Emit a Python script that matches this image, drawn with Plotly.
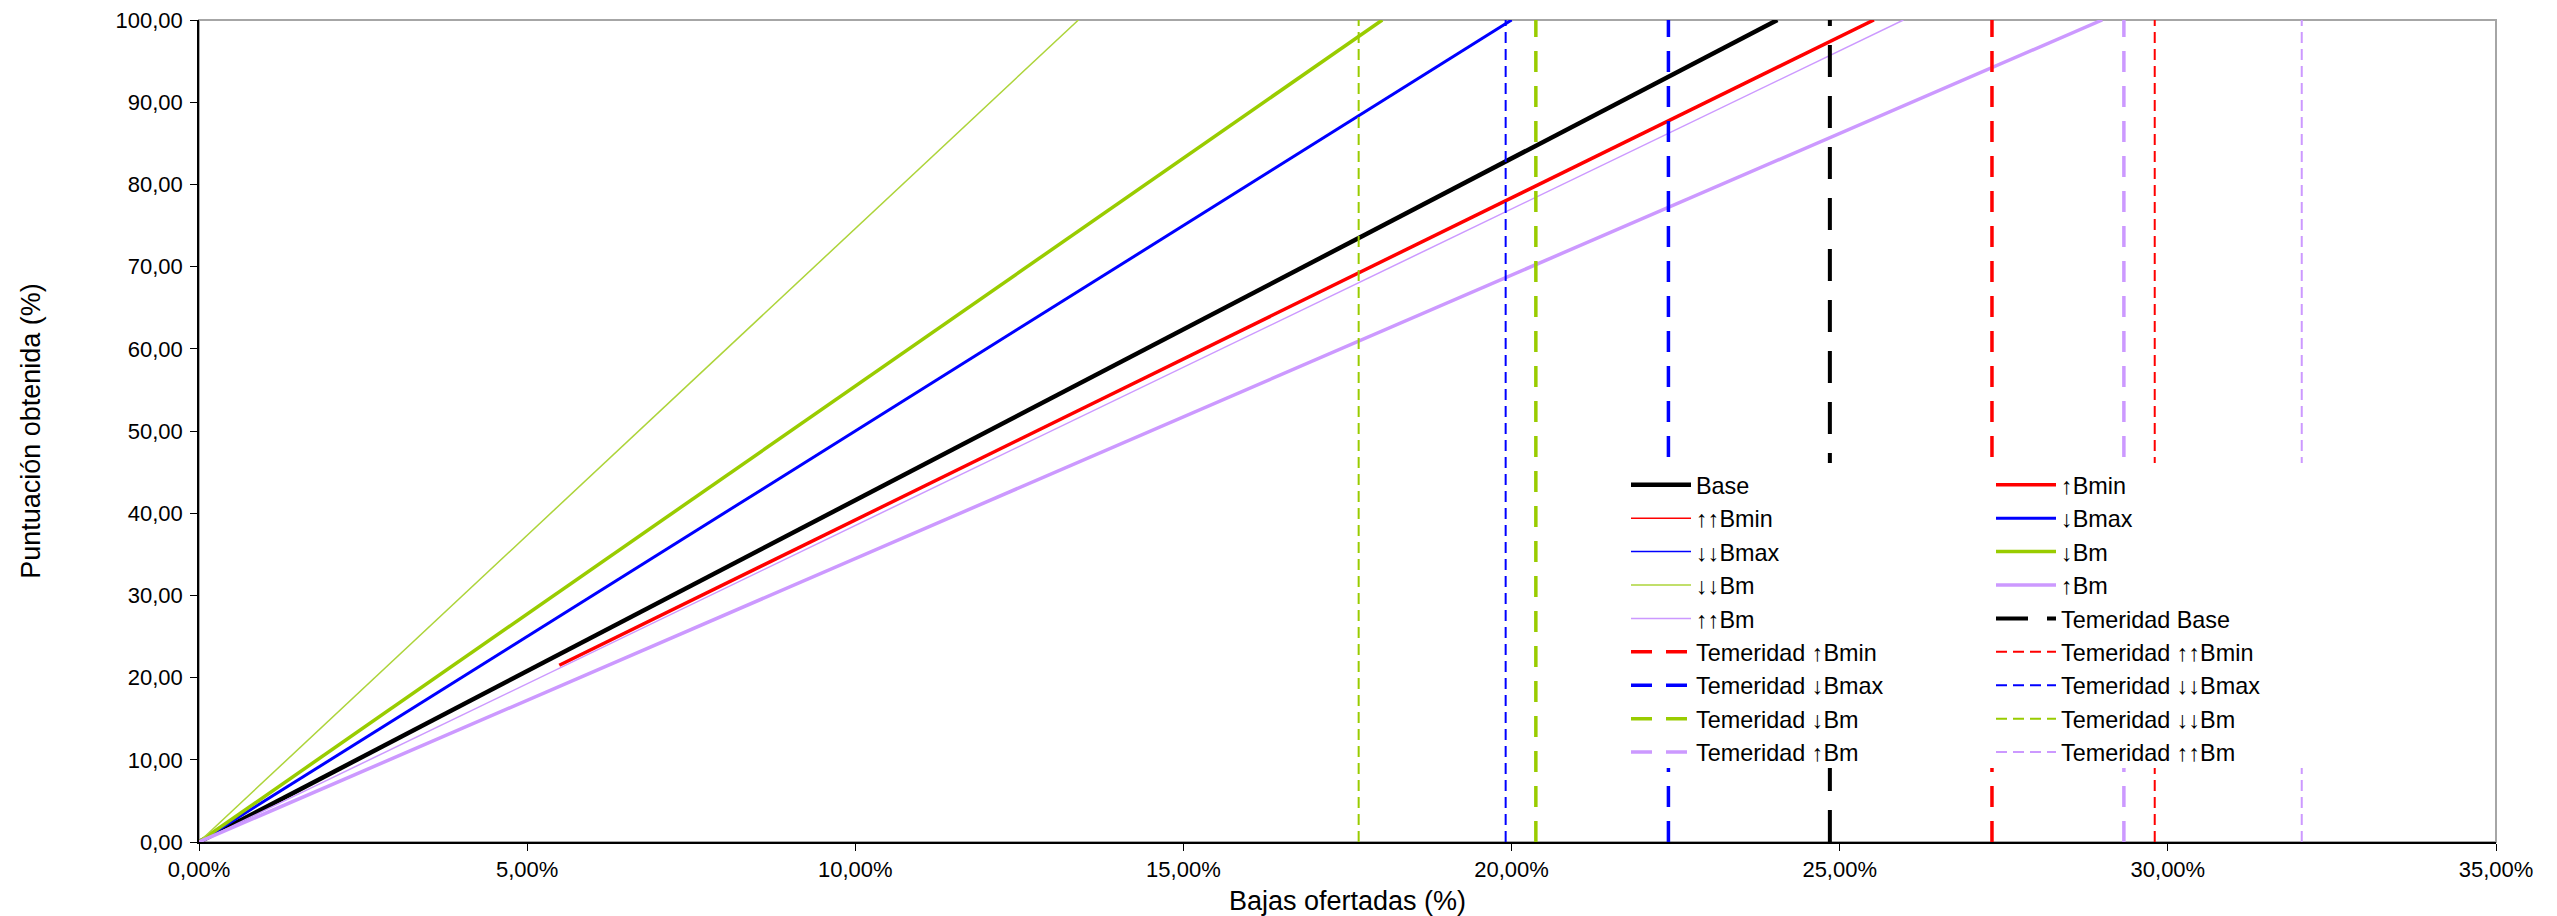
import plotly.graph_objects as go

# ---------------- data ----------------
FONT = "Liberation Sans, Arial, sans-serif"

# diagonal score lines: start point and point where score reaches 100
line_names = ["Base", "↑Bmin", "↑↑Bmin", "↓Bmax", "↓↓Bmax", "↓Bm", "↓↓Bm", "↑Bm", "↑↑Bm"]
line_x0 = [0.0, 5.49, 10.98, 0.0, 0.0, 0.0, 0.0, 0.0, 0.0]
line_y0 = [0.0, 21.5, 43.0, 0.0, 0.0, 0.0, 0.0, 0.0, 0.0]
line_x1 = [24.05, 25.52, 25.52, 20.00, 20.00, 18.03, 13.40, 29.00, 25.97]
line_y1 = [100, 100, 100, 100, 100, 100, 100, 100, 100]
line_colors = ["#000000", "#FF0000", "#FF0000", "#0000FF", "#0000FF", "#99CC00", "#ADD43A", "#CC99FF", "#CC99FF"]
line_widths = [4.5, 3.5, 1.5, 3.0, 1.5, 3.5, 1.5, 3.5, 1.5]
line_legend = ["legend", "legend2", "legend", "legend2", "legend", "legend2", "legend", "legend2", "legend"]

# temeridad (abnormally low bid) thresholds, vertical lines
tem_names = ["Temeridad Base", "Temeridad ↑Bmin", "Temeridad ↑↑Bmin", "Temeridad ↓Bmax",
             "Temeridad ↓↓Bmax", "Temeridad ↓Bm", "Temeridad ↓↓Bm", "Temeridad ↑Bm", "Temeridad ↑↑Bm"]
tem_x = [24.85, 27.32, 29.80, 22.39, 19.91, 20.37, 17.67, 29.33, 32.04]
tem_colors = ["#000000", "#FF0000", "#FF0000", "#0000FF", "#0000FF", "#99CC00", "#99CC00", "#CC99FF", "#CC99FF"]
tem_widths = [4.0, 3.5, 2.0, 3.5, 2.0, 3.5, 2.0, 3.5, 2.0]
tem_dash = ["32px,19px", "21px,14px", "11px,6px", "21px,14px", "11px,6px", "21px,14px", "11px,6px", "21px,14px", "11px,6px"]
tem_legend = ["legend2", "legend", "legend2", "legend", "legend2", "legend", "legend2", "legend", "legend2"]
tem_y = [0, 100]

x_ticks = [0, 5, 10, 15, 20, 25, 30, 35]
x_ticktext = ["0,00%", "5,00%", "10,00%", "15,00%", "20,00%", "25,00%", "30,00%", "35,00%"]
y_ticks = [0, 10, 20, 30, 40, 50, 60, 70, 80, 90, 100]
y_ticktext = ["0,00", "10,00", "20,00", "30,00", "40,00", "50,00", "60,00", "70,00", "80,00", "90,00", "100,00"]

fig = go.Figure()
for i, n in enumerate(line_names):
    fig.add_trace(go.Scatter(
        x=[line_x0[i], line_x1[i]], y=[line_y0[i], line_y1[i]], mode="lines", name=n,
        line=dict(color=line_colors[i], width=line_widths[i]), legend=line_legend[i]))
for i, n in enumerate(tem_names):
    fig.add_trace(go.Scatter(
        x=[tem_x[i], tem_x[i]], y=tem_y, mode="lines", name=n,
        line=dict(color=tem_colors[i], width=tem_widths[i], dash=tem_dash[i]), legend=tem_legend[i]))

W, H = 2557, 916
L, R, T, B = 199, 61, 20, 74
pw, ph = W - L - R, H - T - B

def px_x(p):
    return (p - L) / pw

def px_y(p):
    return (H - B - p) / ph

# white legend box + grey frame
fig.add_shape(type="rect", xref="paper", yref="paper", x0=px_x(1605), x1=px_x(2330),
              y0=px_y(768), y1=px_y(463), fillcolor="white", line=dict(width=0), layer="above")
fig.add_shape(type="rect", xref="paper", yref="paper", x0=0, x1=1, y0=0, y1=1,
              line=dict(color="#A6A6A6", width=2), layer="below")

leg_common = dict(bgcolor="rgba(0,0,0,0)", borderwidth=0, font=dict(family=FONT, size=23.4, color="#000"),
                  yanchor="top", xanchor="left", tracegroupgap=0, itemwidth=60)
fig.update_layout(
    width=W, height=H,
    margin=dict(l=L, r=R, t=T, b=B, autoexpand=False),
    paper_bgcolor="white", plot_bgcolor="white",
    font=dict(family=FONT, size=22, color="#000"),
    showlegend=True,
    legend=dict(x=px_x(1626), y=px_y(463), **leg_common),
    legend2=dict(x=px_x(1991), y=px_y(463), **leg_common),
    xaxis=dict(range=[0, 35], tickmode="array", tickvals=x_ticks, ticktext=x_ticktext,
               automargin=False,
               showgrid=False, zeroline=False, showline=True, linecolor="#000", linewidth=1.5,
               ticks="outside", ticklen=7, tickcolor="#000", tickwidth=1.3,
               tickfont=dict(family=FONT, size=22),
               title=dict(text="Bajas ofertadas (%)", font=dict(family=FONT, size=27), standoff=10)),
    yaxis=dict(range=[0, 100], tickmode="array", tickvals=y_ticks, ticktext=y_ticktext,
               automargin=False,
               showgrid=False, zeroline=False, showline=True, linecolor="#000", linewidth=1.5,
               ticks="outside", ticklen=7, tickcolor="#000", tickwidth=1.3,
               tickfont=dict(family=FONT, size=22), ticklabelstandoff=3,
               title=dict(text="Puntuación obtenida (%)", font=dict(family=FONT, size=27), standoff=67)),
)

fig.write_html("out.html", config={"displayModeBar": False},
               post_script="document.body.style.margin='0';")
